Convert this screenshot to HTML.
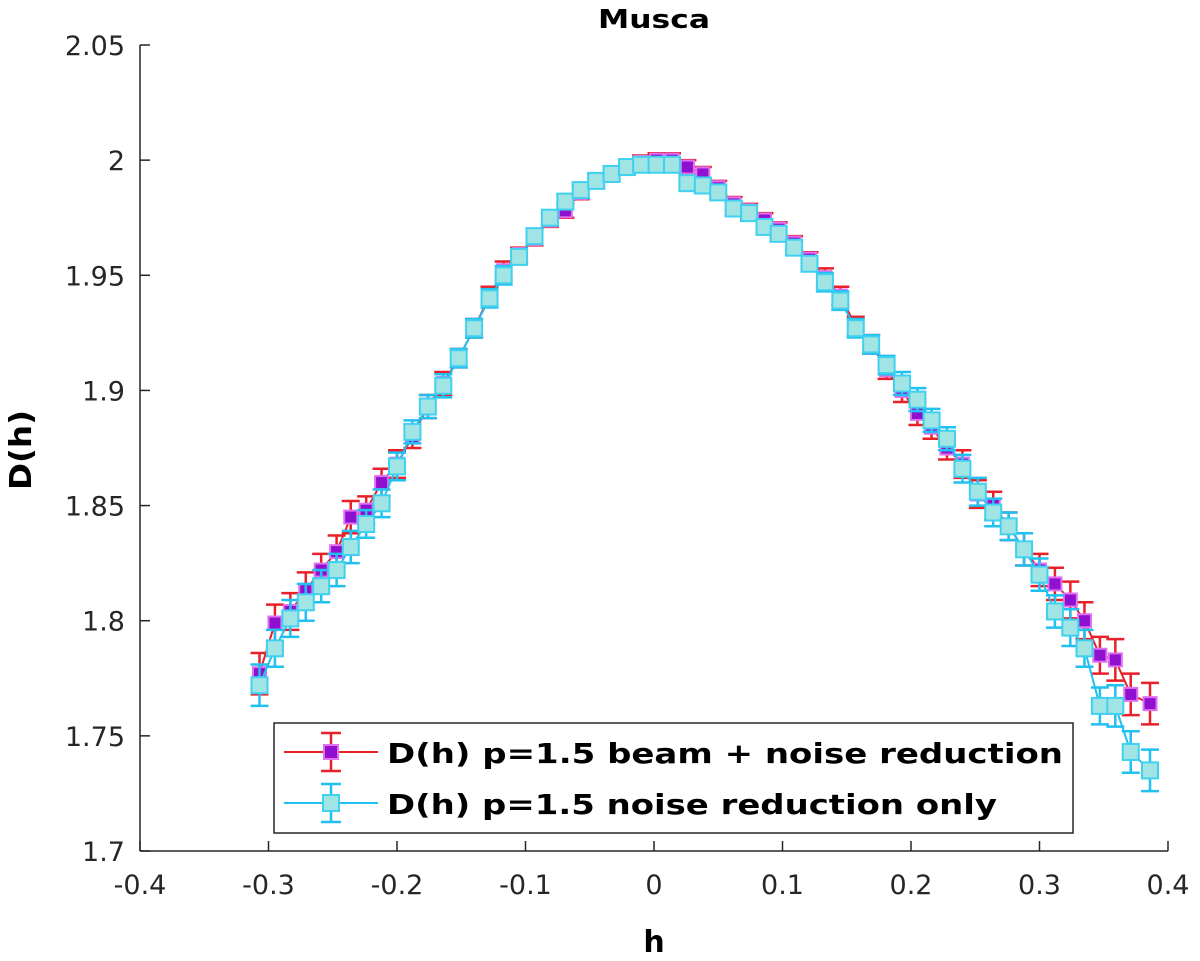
<!DOCTYPE html>
<html><head><meta charset="utf-8"><style>
body{margin:0;background:#fff}
svg{display:block;font-family:"DejaVu Sans","Liberation Sans",sans-serif}
</style></head><body>
<svg id="chart" width="1200" height="961" xmlns="http://www.w3.org/2000/svg">
<text x="654" y="28" text-anchor="middle" font-size="26" font-weight="bold" fill="#000" textLength="112" lengthAdjust="spacingAndGlyphs">Musca</text>
<g id="axes"></g>
<g id="plot"></g>
<text transform="translate(31,450) rotate(-90)" text-anchor="middle" font-size="30" font-weight="bold" textLength="80" lengthAdjust="spacingAndGlyphs">D(h)</text>
<text x="654" y="952" text-anchor="middle" font-size="30" font-weight="bold">h</text>
<g>
<rect x="274" y="723" width="799" height="110" fill="#fff" stroke="#262626" stroke-width="1.5"/>
<g>
<line x1="284" y1="752" x2="378" y2="752" stroke="#e8202a" stroke-width="2"/>
<line x1="331" y1="733" x2="331" y2="771" stroke="#e8202a" stroke-width="2.5"/>
<line x1="321" y1="733" x2="341" y2="733" stroke="#e8202a" stroke-width="2.5"/>
<line x1="321" y1="771" x2="341" y2="771" stroke="#e8202a" stroke-width="2.5"/>
<rect x="324" y="745" width="14" height="14" fill="#9010d0" stroke="#e070f0" stroke-width="2"/>
<text x="387" y="763" font-size="28" font-weight="bold" textLength="676" lengthAdjust="spacingAndGlyphs">D(h) p=1.5 beam + noise reduction</text>
</g>
<g>
<line x1="284" y1="803" x2="378" y2="803" stroke="#20c0f0" stroke-width="2"/>
<line x1="331" y1="784" x2="331" y2="822" stroke="#20c0f0" stroke-width="2.5"/>
<line x1="321" y1="784" x2="341" y2="784" stroke="#20c0f0" stroke-width="2.5"/>
<line x1="321" y1="822" x2="341" y2="822" stroke="#20c0f0" stroke-width="2.5"/>
<rect x="323" y="795" width="16" height="16" fill="#a0e4e4" stroke="#40d0f0" stroke-width="2"/>
<text x="387" y="814" font-size="28" font-weight="bold" textLength="610" lengthAdjust="spacingAndGlyphs">D(h) p=1.5 noise reduction only</text>
</g>
</g>
</svg>
<script>
const hVals=[-0.307,-0.295,-0.283,-0.271,-0.259,-0.247,-0.236,-0.224,-0.212,-0.200,-0.188,-0.176,-0.164,-0.152,-0.140,-0.128,-0.117,-0.105,-0.093,-0.081,-0.069,-0.057,-0.045,-0.033,-0.021,-0.010,0.002,0.014,0.026,0.038,0.050,0.062,0.074,0.086,0.097,0.109,0.121,0.133,0.145,0.157,0.169,0.181,0.193,0.205,0.216,0.228,0.240,0.252,0.264,0.276,0.288,0.300,0.312,0.324,0.335,0.347,0.359,0.371,0.386];
const beamVals=[1.777,1.799,1.804,1.813,1.822,1.830,1.845,1.848,1.860,1.868,1.880,1.893,1.903,1.914,1.927,1.941,1.952,1.959,1.966,1.974,1.978,1.986,1.991,1.994,1.997,1.999,2.000,2.000,1.997,1.994,1.988,1.981,1.978,1.974,1.970,1.964,1.957,1.949,1.941,1.928,1.920,1.909,1.900,1.890,1.884,1.875,1.868,1.855,1.850,1.841,1.831,1.822,1.816,1.809,1.800,1.785,1.783,1.768,1.764];
const beamErr=[0.009,0.008,0.008,0.008,0.007,0.007,0.007,0.006,0.006,0.006,0.005,0.005,0.005,0.004,0.004,0.004,0.004,0.003,0.003,0.003,0.003,0.003,0.003,0.003,0.003,0.003,0.003,0.003,0.003,0.003,0.003,0.003,0.003,0.003,0.003,0.003,0.003,0.004,0.004,0.004,0.004,0.004,0.005,0.005,0.005,0.005,0.006,0.006,0.006,0.006,0.007,0.007,0.007,0.008,0.008,0.008,0.009,0.009,0.009];
const noiseVals=[1.772,1.788,1.801,1.808,1.815,1.822,1.832,1.842,1.851,1.867,1.882,1.893,1.902,1.914,1.927,1.940,1.950,1.958,1.967,1.975,1.982,1.987,1.991,1.994,1.997,1.998,1.998,1.998,1.990,1.989,1.986,1.979,1.977,1.971,1.968,1.962,1.955,1.947,1.939,1.927,1.920,1.911,1.903,1.896,1.887,1.879,1.866,1.856,1.847,1.841,1.831,1.820,1.804,1.797,1.788,1.763,1.763,1.743,1.735];
const noiseErr=[0.009,0.008,0.008,0.008,0.007,0.007,0.007,0.006,0.006,0.006,0.005,0.005,0.005,0.004,0.004,0.004,0.004,0.003,0.003,0.003,0.003,0.003,0.003,0.003,0.003,0.003,0.003,0.003,0.003,0.003,0.003,0.003,0.003,0.003,0.003,0.003,0.003,0.004,0.004,0.004,0.004,0.004,0.005,0.005,0.005,0.005,0.006,0.006,0.006,0.006,0.007,0.007,0.007,0.008,0.008,0.008,0.009,0.009,0.009];
const xTicks=[-0.4,-0.3,-0.2,-0.1,0,0.1,0.2,0.3,0.4];
const xTickLabels=["-0.4","-0.3","-0.2","-0.1","0","0.1","0.2","0.3","0.4"];
const yTicks=[1.7,1.75,1.8,1.85,1.9,1.95,2,2.05];
const yTickLabels=["1.7","1.75","1.8","1.85","1.9","1.95","2","2.05"];
const NS="http://www.w3.org/2000/svg";
const L=140,R=1168,T=45,B=851;
const xs=v=>L+(v+0.4)/0.8*(R-L);
const ys=v=>B-(v-1.7)/0.35*(B-T);
function mk(tag,attrs,parent){const e=document.createElementNS(NS,tag);for(const k in attrs)e.setAttribute(k,attrs[k]);parent.appendChild(e);return e;}
const ax=document.getElementById('axes');
let e=mk('line',{x1:L,y1:B,x2:R,y2:B,stroke:'#262626','stroke-width':1.5},ax);


e=mk('line',{x1:L,y1:T,x2:L,y2:B,stroke:'#262626','stroke-width':1.5},ax);


xTicks.forEach((t,i)=>{const x=xs(t);
mk('line',{x1:x,y1:B,x2:x,y2:B-10,stroke:'#262626','stroke-width':1.5},ax);
const tx=mk('text',{x:x,y:B+43,'text-anchor':'middle','font-size':27,fill:'#262626'},ax);tx.textContent=xTickLabels[i];

});
yTicks.forEach((t,i)=>{const y=ys(t);
mk('line',{x1:L,y1:y,x2:L+10,y2:y,stroke:'#262626','stroke-width':1.5},ax);
const tx=mk('text',{x:L-15,y:y+10,'text-anchor':'end','font-size':27,fill:'#262626'},ax);tx.textContent=yTickLabels[i];

});
const plot=document.getElementById('plot');
function series(vals,errs,lc,fill,edge,size,name){
const g=mk('g',{},plot);


mk('polyline',{points:vals.map((v,i)=>xs(hVals[i])+','+ys(v)).join(' '),fill:'none',stroke:lc,'stroke-width':2},g);
vals.forEach((v,i)=>{const x=xs(hVals[i]),y1=ys(v+errs[i]),y2=ys(v-errs[i]);
mk('path',{d:`M${x},${y1}V${y2}M${x-9},${y1}H${x+9}M${x-9},${y2}H${x+9}`,stroke:lc,'stroke-width':2.5,fill:'none'},g);});
vals.forEach((v,i)=>{const x=xs(hVals[i]),y=ys(v);
const r=mk('rect',{x:x-size/2,y:y-size/2,width:size,height:size,fill:fill,stroke:edge,'stroke-width':2},g);

});
}
series(beamVals,beamErr,'#e8202a','#9010d0','#e070f0',13,'series-beam-noise');
series(noiseVals,noiseErr,'#20c0f0','#a0e4e4','#40d0f0',16,'series-noise-only');
</script>
</body></html>
